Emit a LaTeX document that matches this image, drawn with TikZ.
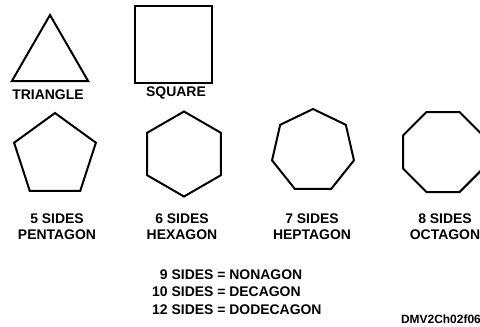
\documentclass[tikz,border=0pt]{standalone}
\usepackage{fontspec}
\setmainfont{Liberation Sans}
\usetikzlibrary{shapes.geometric}
\tikzset{
  poly/.style={regular polygon,regular polygon sides=#1,draw=black,line width=2bp,
    inner sep=0pt,outer sep=0pt},
  poly/.default=5,
  tag/.style={font=\fontsize{14}{16}\selectfont\bfseries,align=center,inner sep=0pt},
  note/.style={font=\fontsize{14}{17.5}\selectfont\bfseries,align=left,inner sep=0pt},
  code/.style={font=\fontsize{12}{14}\selectfont\bfseries,inner sep=0pt},
}

\begin{document}
\begin{tikzpicture}[x=1bp,y=-1bp]
  \useasboundingbox (0,0) rectangle (480,326);
  % triangle and square
  \node[poly=3,minimum size=88bp] (tri) at (50,59) {};
  \node[poly=4,minimum size=109bp] (sq) at (173.5,44.5) {};
  \node[tag] (tri-l) at (48,95) {TRIANGLE};
  \node[tag] (sq-l) at (176,93) {SQUARE};
  % five to eight sides
  \foreach \n/\x/\y/\r/\d/\lx/\t in {5/55/156/0/86/57/PENTAGON,6/184/154/30/85/182/HEXAGON,
    7/313/151/0/84/312/HEPTAGON,8/443/152/0/86.6/445/OCTAGON} {
    \node[poly=\n,minimum size=\d bp,shape border rotate=\r] (p\n) at (\x,\y) {};
    \node[tag] (l\n) at (\lx,227) {\n\ SIDES\\\t};
  }
  \node[note,anchor=west] (names) at (152,292)
    {\hphantom{1}9 SIDES = NONAGON\\10 SIDES = DECAGON\\12 SIDES = DODECAGON};
  \node[code,anchor=east] (fig) at (481,319) {DMV2Ch02f06};
\end{tikzpicture}
\end{document}
